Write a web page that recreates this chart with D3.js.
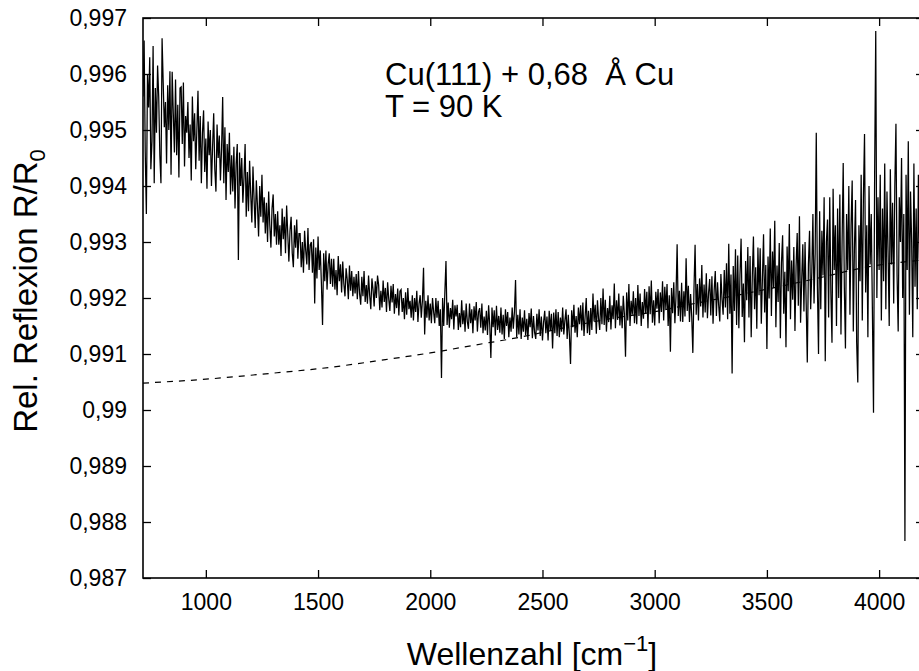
<!DOCTYPE html>
<meta charset="utf-8">
<script src="https://d3js.org/d3.v7.min.js"></script>
<style>
    body { margin: 0; background: #fff; }
    svg { display: block; font-family: "Liberation Sans", Arial, sans-serif; }
    .axis path { display: none; }
    .axis line { stroke: #000; stroke-width: 1.3; }
    .axis text { fill: #000; font-size: 23px; }
</style>
<div id="chart"></div>
<script>
    // sampling grid of the spectrum (cm^-1)
    var wnStart = 720, wnStep = 5;

    // R/R0, one value per grid step (rows of 50 cm^-1)
    var reflexion = [
        0.99560, 0.99660, 0.99460, 0.99350, 0.99600, 0.99540, 0.99630, 0.99430, 0.99480, 0.99650,
        0.99405, 0.99575, 0.99495, 0.99615, 0.99560, 0.99455, 0.99405, 0.99664, 0.99585, 0.99505,
        0.99550, 0.99440, 0.99580, 0.99500, 0.99605, 0.99420, 0.99604, 0.99530, 0.99460, 0.99590,
        0.99455, 0.99545, 0.99415, 0.99575, 0.99577, 0.99475, 0.99585, 0.99435, 0.99525, 0.99495,
        0.99550, 0.99450, 0.99510, 0.99410, 0.99560, 0.99480, 0.99530, 0.99430, 0.99500, 0.99570,
        0.99445, 0.99525, 0.99405, 0.99495, 0.99535, 0.99425, 0.99485, 0.99395, 0.99515, 0.99455,
        0.99500, 0.99400, 0.99470, 0.99530, 0.99430, 0.99390, 0.99510, 0.99450, 0.99490, 0.99410,
        0.99465, 0.99559, 0.99405, 0.99505, 0.99375, 0.99475, 0.99425, 0.99495, 0.99385, 0.99455,
        0.99390, 0.99470, 0.99360, 0.99440, 0.99475, 0.99268, 0.99460, 0.99400, 0.99450, 0.99370,
        0.99415, 0.99475, 0.99345, 0.99425, 0.99355, 0.99445, 0.99385, 0.99335, 0.99435, 0.99375,
        0.99325, 0.99410, 0.99365, 0.99310, 0.99400, 0.99345, 0.99420, 0.99335, 0.99380, 0.99315,
        0.99370, 0.99300, 0.99390, 0.99330, 0.99290, 0.99360, 0.99385, 0.99310, 0.99350, 0.99295,
        0.99355, 0.99295, 0.99330, 0.99275, 0.99360, 0.99305, 0.99345, 0.99280, 0.99365, 0.99315,
        0.99265, 0.99320, 0.99345, 0.99280, 0.99255, 0.99330, 0.99290, 0.99340, 0.99270, 0.99315,
        0.99315, 0.99255, 0.99300, 0.99245, 0.99320, 0.99285, 0.99260, 0.99325, 0.99250, 0.99295,
        0.99300, 0.99245, 0.99305, 0.99190, 0.99290, 0.99235, 0.99310, 0.99250, 0.99285, 0.99225,
        0.99152, 0.99280, 0.99230, 0.99285, 0.99215, 0.99260, 0.99280, 0.99225, 0.99270, 0.99220,
        0.99270, 0.99215, 0.99250, 0.99205, 0.99275, 0.99230, 0.99260, 0.99210, 0.99265, 0.99225,
        0.99203, 0.99253, 0.99233, 0.99198, 0.99258, 0.99213, 0.99248, 0.99203, 0.99238, 0.99208,
        0.99243, 0.99198, 0.99248, 0.99208, 0.99188, 0.99238, 0.99203, 0.99248, 0.99193, 0.99223,
        0.99190, 0.99240, 0.99205, 0.99180, 0.99235, 0.99215, 0.99185, 0.99230, 0.99200, 0.99240,
        0.99223, 0.99178, 0.99213, 0.99183, 0.99231, 0.99193, 0.99218, 0.99175, 0.99228, 0.99198,
        0.99177, 0.99222, 0.99192, 0.99225, 0.99172, 0.99207, 0.99182, 0.99217, 0.99169, 0.99212,
        0.99215, 0.99175, 0.99200, 0.99162, 0.99210, 0.99170, 0.99218, 0.99180, 0.99195, 0.99165,
        0.99205, 0.99160, 0.99200, 0.99175, 0.99213, 0.99157, 0.99190, 0.99205, 0.99165, 0.99195,
        0.99254, 0.99135, 0.99195, 0.99165, 0.99205, 0.99160, 0.99190, 0.99155, 0.99200, 0.99175,
        0.99155, 0.99200, 0.99165, 0.99195, 0.99150, 0.99180, 0.99057, 0.99200, 0.99150, 0.99210,
        0.99266, 0.99152, 0.99192, 0.99147, 0.99182, 0.99162, 0.99197, 0.99144, 0.99187, 0.99167,
        0.99188, 0.99143, 0.99173, 0.99148, 0.99196, 0.99153, 0.99178, 0.99140, 0.99190, 0.99158,
        0.99145, 0.99190, 0.99155, 0.99180, 0.99137, 0.99185, 0.99160, 0.99193, 0.99140, 0.99175,
        0.99182, 0.99147, 0.99190, 0.99137, 0.99167, 0.99142, 0.99177, 0.99134, 0.99187, 0.99152,
        0.99093, 0.99183, 0.99148, 0.99178, 0.99133, 0.99186, 0.99143, 0.99168, 0.99138, 0.99183,
        0.99135, 0.99170, 0.99127, 0.99180, 0.99150, 0.99175, 0.99130, 0.99165, 0.99140, 0.99183,
        0.99145, 0.99175, 0.99232, 0.99130, 0.99170, 0.99135, 0.99180, 0.99127, 0.99165, 0.99140,
        0.99178, 0.99133, 0.99163, 0.99125, 0.99173, 0.99148, 0.99181, 0.99128, 0.99168, 0.99138,
        0.99127, 0.99172, 0.99142, 0.99180, 0.99132, 0.99167, 0.99124, 0.99157, 0.99177, 0.99137,
        0.99167, 0.99124, 0.99177, 0.99142, 0.99172, 0.99110, 0.99174, 0.99137, 0.99180, 0.99132,
        0.99175, 0.99130, 0.99165, 0.99140, 0.99183, 0.99135, 0.99160, 0.99180, 0.99127, 0.99170,
        0.99133, 0.99082, 0.99178, 0.99148, 0.99188, 0.99138, 0.99168, 0.99130, 0.99183, 0.99153,
        0.99187, 0.99142, 0.99192, 0.99132, 0.99167, 0.99200, 0.99137, 0.99177, 0.99134, 0.99182,
        0.99143, 0.99208, 0.99158, 0.99188, 0.99136, 0.99196, 0.99163, 0.99143, 0.99200, 0.99153,
        0.99217, 0.99152, 0.99197, 0.99140, 0.99182, 0.99157, 0.99204, 0.99144, 0.99187, 0.99162,
        0.99226, 0.99146, 0.99196, 0.99161, 0.99208, 0.99151, 0.99186, 0.99146, 0.99204, 0.99171,
        0.99095, 0.99210, 0.99160, 0.99225, 0.99150, 0.99195, 0.99170, 0.99212, 0.99155, 0.99200,
        0.99153, 0.99223, 0.99168, 0.99208, 0.99150, 0.99193, 0.99163, 0.99216, 0.99173, 0.99211,
        0.99146, 0.99221, 0.99171, 0.99231, 0.99156, 0.99196, 0.99151, 0.99211, 0.99181, 0.99216,
        0.99155, 0.99210, 0.99175, 0.99230, 0.99160, 0.99220, 0.99180, 0.99225, 0.99150, 0.99205,
        0.99104, 0.99218, 0.99173, 0.99228, 0.99155, 0.99203, 0.99296, 0.99168, 0.99213, 0.99158,
        0.99227, 0.99157, 0.99212, 0.99167, 0.99271, 0.99177, 0.99222, 0.99157, 0.99207, 0.99167,
        0.99102, 0.99215, 0.99295, 0.99170, 0.99225, 0.99160, 0.99235, 0.99185, 0.99259, 0.99165,
        0.99224, 0.99174, 0.99244, 0.99164, 0.99209, 0.99234, 0.99169, 0.99239, 0.99154, 0.99214,
        0.99248, 0.99168, 0.99228, 0.99188, 0.99158, 0.99243, 0.99198, 0.99170, 0.99250, 0.99183,
        0.99262, 0.99162, 0.99297, 0.99172, 0.99242, 0.99065, 0.99257, 0.99177, 0.99287, 0.99152,
        0.99276, 0.99146, 0.99241, 0.99306, 0.99166, 0.99226, 0.99121, 0.99266, 0.99196, 0.99291,
        0.99165, 0.99275, 0.99130, 0.99240, 0.99310, 0.99180, 0.99255, 0.99145, 0.99290, 0.99205,
        0.99289, 0.99154, 0.99234, 0.99314, 0.99174, 0.99259, 0.99109, 0.99274, 0.99199, 0.99324,
        0.99168, 0.99283, 0.99218, 0.99338, 0.99148, 0.99258, 0.99193, 0.99298, 0.99128, 0.99263,
        0.99312, 0.99172, 0.99247, 0.99112, 0.99292, 0.99212, 0.99332, 0.99162, 0.99267, 0.99197,
        0.99291, 0.99141, 0.99256, 0.99316, 0.99186, 0.99346, 0.99156, 0.99231, 0.99296, 0.99176,
        0.99300, 0.99190, 0.99085, 0.99260, 0.99320, 0.99180, 0.99245, 0.99350, 0.99190, 0.99280,
        0.99495, 0.99220, 0.99100, 0.99355, 0.99180, 0.99320, 0.99240, 0.99380, 0.99087, 0.99300,
        0.99340, 0.99165, 0.99380, 0.99210, 0.99120, 0.99395, 0.99250, 0.99330, 0.99150, 0.99360,
        0.99200, 0.99385, 0.99135, 0.99300, 0.99441, 0.99220, 0.99110, 0.99350, 0.99250, 0.99400,
        0.99170, 0.99330, 0.99410, 0.99140, 0.99290, 0.99375, 0.99120, 0.99049, 0.99330, 0.99230,
        0.99420, 0.99160, 0.99380, 0.99493, 0.99210, 0.99330, 0.99130, 0.99400, 0.99260, 0.99350,
        0.99180, 0.98995, 0.99420, 0.99677, 0.99200, 0.99380, 0.99250, 0.99420, 0.99160, 0.99360,
        0.99230, 0.99440, 0.99180, 0.99390, 0.99280, 0.99150, 0.99430, 0.99260, 0.99370, 0.99190,
        0.99400, 0.99511, 0.99240, 0.99140, 0.99380, 0.99300, 0.99450, 0.99200, 0.99350, 0.98766,
        0.99420, 0.99250, 0.99480, 0.99170, 0.99390, 0.99300, 0.99130, 0.99440, 0.99220, 0.99360,
        0.99180, 0.99420, 0.99270, 0.99350, 0.99150, 0.99400, 0.99290
    ];

    // dashed baseline (fit)
    var baseWn = [720, 1000, 1250, 1550, 1800, 2000, 2200, 2400, 2610, 2815, 2965, 3200, 3455, 3700, 3970, 4200];
    var baseR = [0.99048, 0.99055, 0.99064, 0.99076, 0.99090, 0.99102, 0.99116, 0.99130, 0.99148, 0.99164, 0.99173, 0.99192, 0.99212, 0.99233, 0.99257, 0.99268];

    var xTicks = [1000, 1500, 2000, 2500, 3000, 3500, 4000];
    var yTicks = [0.987, 0.988, 0.989, 0.99, 0.991, 0.992, 0.993, 0.994, 0.995, 0.996, 0.997];

    var margin = { top: 18, right: -5, bottom: 93, left: 143 },
        fullW = 919, fullH = 671,
        width = fullW - margin.left - margin.right,
        height = fullH - margin.top - margin.bottom;

    var de = d3.formatLocale({ decimal: ",", thousands: "", grouping: [3], currency: ["", ""] });
    var fmtY = de.format("~g");

    var svg = d3.select("#chart")
        .append("svg")
        .attr("width", fullW)
        .attr("height", fullH)
        .append("g")
        .attr("transform", "translate(" + margin.left + "," + margin.top + ")");

    var x = d3.scaleLinear().domain([720, 4200]).range([0, width]);
    var y = d3.scaleLinear().domain([0.987, 0.997]).range([height, 0]);

    svg.append("clipPath").attr("id", "clip")
        .append("rect").attr("width", width).attr("height", height);

    // axes, ticks pointing inward
    svg.append("g").attr("class", "axis")
        .attr("transform", "translate(0," + height + ")")
        .call(d3.axisBottom(x).tickValues(xTicks).tickSizeInner(-8).tickSizeOuter(0).tickPadding(16).tickFormat(d3.format("d")));
    svg.append("g").attr("class", "axis")
        .call(d3.axisTop(x).tickValues(xTicks).tickSizeInner(-8).tickSizeOuter(0).tickFormat(""));
    svg.append("g").attr("class", "axis")
        .call(d3.axisLeft(y).tickValues(yTicks).tickSizeInner(-8).tickSizeOuter(0).tickPadding(16).tickFormat(fmtY));
    svg.append("g").attr("class", "axis")
        .attr("transform", "translate(" + width + ",0)")
        .call(d3.axisRight(y).tickValues(yTicks).tickSizeInner(-8).tickSizeOuter(0).tickFormat(""));

    svg.append("rect")
        .attr("width", width)
        .attr("height", height)
        .attr("fill", "none")
        .attr("stroke", "#000")
        .attr("stroke-width", 1.6);

    // dashed baseline
    var base = baseWn.map(function (w, i) { return [w, baseR[i]]; });
    svg.append("path")
        .datum(base)
        .attr("clip-path", "url(#clip)")
        .attr("fill", "none")
        .attr("stroke", "#000")
        .attr("stroke-width", 1.2)
        .attr("stroke-dasharray", "6,6")
        .attr("d", d3.line().curve(d3.curveMonotoneX)
            .x(function (d) { return x(d[0]); })
            .y(function (d) { return y(d[1]); }));

    // spectrum
    svg.append("path")
        .datum(reflexion)
        .attr("clip-path", "url(#clip)")
        .attr("fill", "none")
        .attr("stroke", "#000")
        .attr("stroke-width", 1.25)
        .attr("d", d3.line()
            .x(function (d, i) { return x(wnStart + i * wnStep); })
            .y(function (d) { return y(d); }));

    // annotation
    var note = svg.append("text")
        .attr("font-size", 31)
        .style("white-space", "pre");
    note.append("tspan").attr("x", 385 - margin.left).attr("y", 85 - margin.top).text("Cu(111) + 0,68  Å Cu");
    note.append("tspan").attr("x", 385 - margin.left).attr("y", 117 - margin.top).text("T = 90 K");

    // axis titles
    var xt = svg.append("text")
        .attr("x", 532 - margin.left)
        .attr("y", 665 - margin.top)
        .attr("text-anchor", "middle")
        .attr("font-size", 32);
    xt.append("tspan").text("Wellenzahl [cm");
    xt.append("tspan").attr("font-size", 22).attr("dy", -14).text("\u22121");
    xt.append("tspan").attr("dy", 14).text("]");

    var yt = svg.append("text")
        .attr("transform", "translate(" + (37 - margin.left) + "," + (291 - margin.top) + ")rotate(-90)")
        .attr("text-anchor", "middle")
        .attr("font-size", 33);
    yt.append("tspan").text("Rel. Reflexion R/R");
    yt.append("tspan").attr("font-size", 22).attr("dy", 8).text("0");
</script>
